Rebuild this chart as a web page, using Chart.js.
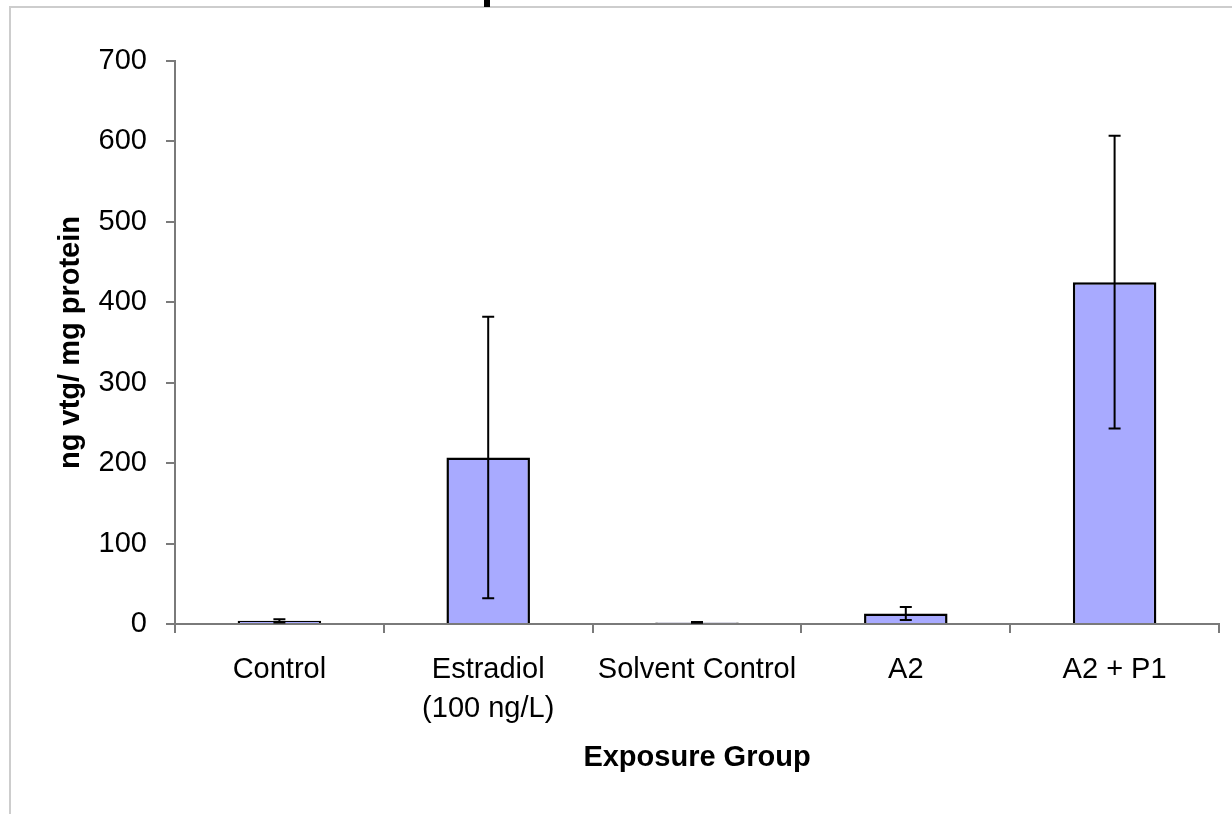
<!DOCTYPE html>
<html>
<head>
<meta charset="utf-8">
<script src="https://cdn.jsdelivr.net/npm/chart.js@4/dist/chart.umd.min.js"></script>
<style>
  html, body { margin: 0; padding: 0; background: #fff; }
  #wrap { position: relative; width: 1232px; height: 814px; overflow: hidden; }
  #frame { position: absolute; left: 9px; top: 6px; width: 1300px; height: 900px;
           border-left: 2px solid #cdcdcd; border-top: 2px solid #cdcdcd; }
  #clip { position: absolute; left: 484px; top: 0; width: 6px; height: 7px; background: #000; }
  canvas { position: absolute; left: 0; top: 0; }
</style>
</head>
<body>
<div id="wrap">
  <div id="frame"></div>
  <div id="clip"></div>
  <canvas id="c" width="1232" height="814"></canvas>
</div>
<script>
const categories = ['Control', ['Estradiol', '(100 ng/L)'], 'Solvent Control', 'A2', 'A2 + P1'];
const means = [4, 207, 2, 13, 425];
const errors = [2, 175, 0.5, 8, 182];
const yMin = 0, yMax = 700, yStep = 100;
const yTitle = 'ng vtg/ mg protein';
const xTitle = 'Exposure Group';

const FONT = '"Liberation Sans", Arial, sans-serif';
const AXIS = '#7a7a7a';

const errorBars = {
  id: 'errorBars',
  afterDatasetsDraw(chart) {
    const ctx = chart.ctx;
    const meta = chart.getDatasetMeta(0);
    const ys = chart.scales.y;
    ctx.save();
    ctx.strokeStyle = '#000';
    ctx.lineWidth = 2;
    meta.data.forEach((bar, i) => {
      const v = means[i], e = errors[i];
      const x = bar.x;
      const yt = ys.getPixelForValue(v + e);
      const yb = ys.getPixelForValue(Math.max(v - e, 0));
      ctx.beginPath();
      ctx.moveTo(x, yt); ctx.lineTo(x, yb);
      ctx.moveTo(x - 6, yt); ctx.lineTo(x + 6, yt);
      ctx.moveTo(x - 6, yb); ctx.lineTo(x + 6, yb);
      ctx.stroke();
    });
    ctx.restore();
  }
};

new Chart(document.getElementById('c'), {
  type: 'bar',
  data: {
    labels: categories,
    datasets: [{
      data: means,
      backgroundColor: '#a8aaff',
      borderColor: '#000',
      borderWidth: 2.5,
      barPercentage: 0.4,
      categoryPercentage: 1.0
    }]
  },
  options: {
    responsive: false,
    animation: false,
    devicePixelRatio: 1,
    layout: { padding: { left: 0, top: 61, right: 13, bottom: 0 } },
    plugins: { legend: { display: false }, tooltip: { enabled: false } },
    scales: {
      x: {
        grid: { display: true, drawOnChartArea: false, drawTicks: true, tickLength: 9, color: AXIS, lineWidth: 2, offset: true },
        border: { display: true, color: AXIS, width: 2 },
        ticks: { color: '#000', font: { family: FONT, size: 29, lineHeight: 1.36 }, padding: 17, maxRotation: 0, autoSkip: false },
        title: { display: true, text: xTitle, color: '#000', font: { family: FONT, size: 29, weight: 'bold' }, padding: { top: 0, bottom: 39 } },
        afterFit(s) { s.height = 190; }
      },
      y: {
        min: yMin, max: yMax,
        grid: { display: true, drawOnChartArea: false, drawTicks: true, tickLength: 9, color: AXIS, lineWidth: 2 },
        border: { display: true, color: AXIS, width: 2 },
        ticks: { stepSize: yStep, color: '#000', font: { family: FONT, size: 29 }, padding: 19 },
        title: { display: true, text: yTitle, color: '#000', font: { family: FONT, size: 29, weight: 'bold' }, padding: { top: 54, bottom: 0 } },
        afterFit(s) { s.width = 175; }
      }
    }
  },
  plugins: [errorBars]
});
</script>
</body>
</html>
